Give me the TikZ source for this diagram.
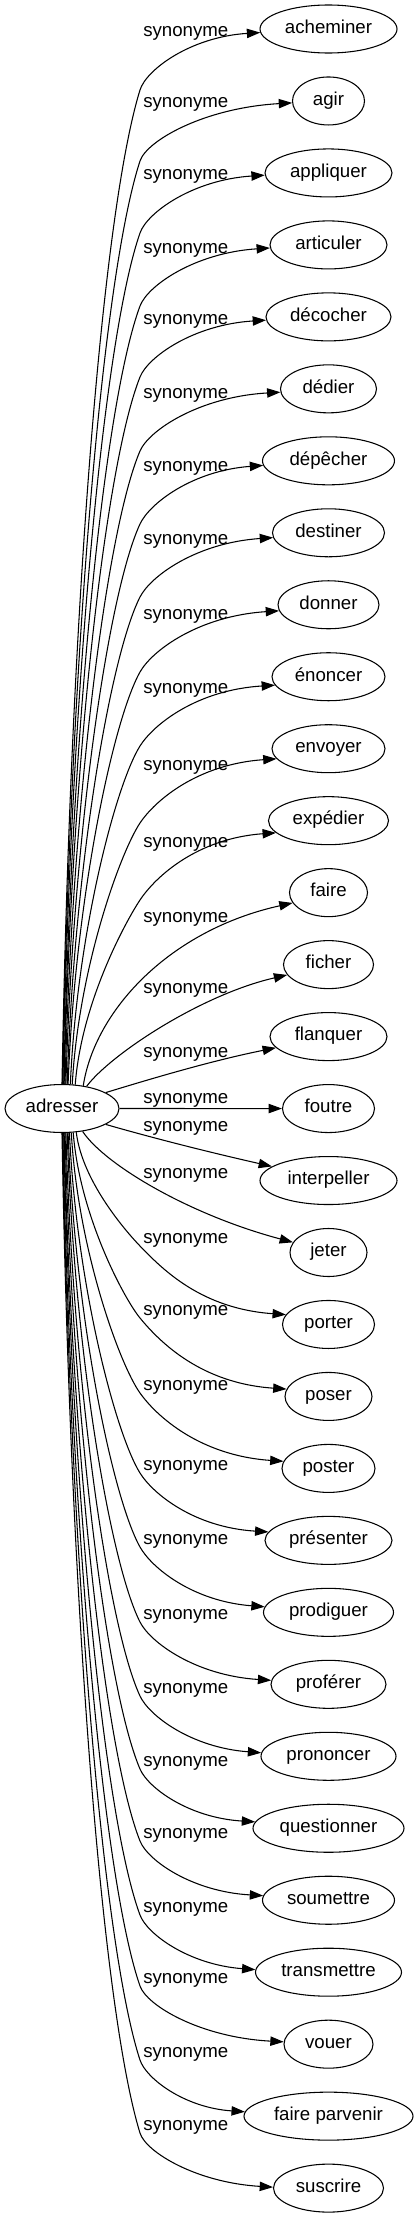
\documentclass[tikz,border=0pt]{standalone}
\usepackage{fontspec}
\setmainfont{Liberation Sans}
\usetikzlibrary{arrows.meta,shapes.geometric}
\begin{document}
\begin{tikzpicture}[x=0.75pt,y=-0.75pt,
  word/.style={draw, ellipse, line width=0.8pt, inner sep=0pt, minimum height=36pt,
    text height=0.64em, text depth=0pt, font=\fontsize{14}{16}\selectfont},
  lbl/.style={anchor=base, inner sep=0pt, font=\fontsize{14}{16}\selectfont},
  edge/.style={line width=0.8pt, -{Triangle[length=10pt,width=7pt]}}]
\useasboundingbox (0,0) rectangle (418,2219);
\node[word, minimum width=85.5pt] (adr) at (62,1108.5) {adresser};
\foreach \i/\txt/\w in {0/acheminer/137, 1/agir/72, 2/appliquer/127, 3/articuler/117,
  4/décocher/125, 5/dédier/96, 6/dépêcher/132, 7/destiner/112, 8/donner/101,
  9/énoncer/113, 10/envoyer/113, 11/expédier/120, 12/faire/78, 13/ficher/90,
  14/flanquer/117, 15/foutre/92, 16/interpeller/137, 17/jeter/77, 18/porter/92,
  19/poser/87, 20/poster/93, 21/présenter/127, 22/prodiguer/130, 23/proférer/115,
  24/prononcer/135, 25/questionner/151, 26/soumettre/132, 27/transmettre/146,
  28/vouer/89, 29/faire parvenir/169, 30/suscrire/110} {
  \node[word, minimum width=\w*0.75pt] (t\i) at (328.5,{29+71.97*\i}) {\txt};
}
\foreach \i/\eL in {0/32, 1/103, 2/175, 3/248, 4/319, 5/393, 6/466, 7/539, 8/614,
  9/688, 10/765, 11/842, 12/917, 13/988, 14/1052, 15/1098, 16/1126, 17/1173,
  18/1238, 19/1310, 20/1385, 21/1465, 22/1539, 23/1614, 24/1688, 25/1761,
  26/1833, 27/1907, 28/1978, 29/2052, 30/2125} {
  \node[lbl] (l\i) at (185.8,{\eL+5}) {synonyme};
}
% curved edges with a bend near the labels
\foreach \i/\eL/\ofs/\sx/\sg/\w in {0/32/3/62/-1/137, 1/103/2/62.5/-1/72,
  2/175/2/63/-1/127, 3/248/3/63.5/-1/117, 4/319/3/64/-1/125, 5/393/3/65/-1/96,
  6/466/5/66/-1/132, 7/539/5/67/-1/112, 8/614/6/68/-1/101, 9/688/8/70/-1/113,
  10/765/10/72/-1/113, 11/842/12/75/-1/120,
  18/1238/-10/76/1/92, 19/1310/-7/73/1/87, 20/1385/-7/71/1/93,
  21/1465/-8/69.5/1/127, 22/1539/-6/68/1/130, 23/1614/-4/67/1/115,
  24/1688/-4/66/1/135, 25/1761/-6/65/1/151, 26/1833/-4/64/1/132,
  27/1907/-3/63.5/1/146, 28/1978/-2/63/1/89, 29/2052/-4/62.5/1/169,
  30/2125/-1/62/1/110} {
  \pgfmathsetmacro\ety{29+71.97*\i}
  \pgfmathsetmacro\esy{1108.5+\sg*24*sqrt(1-((\sx-62)/57)^2)}
  \pgfmathtruncatemacro\esa{round(mod(atan2(-(\esy-1108.5),\sx-62)+360,360))}
  \pgfmathsetmacro\ewy{\eL+33-25*\sg}
  \pgfmathsetmacro\edya{\sg*(\ewy-\esy)}
  \pgfmathsetmacro\edxa{140-\sx}
  \pgfmathsetmacro\es{max(1.25-0.25*\sg,1+(\edya-100)*0.0025)}
  \pgfmathsetmacro\en{sqrt(1+\es*\es)}
  \pgfmathsetmacro\eh{0.134*\edya}
  \pgfmathsetmacro\cax{\sx+0.1*\edxa}
  \pgfmathsetmacro\cay{\esy+\sg*0.45*\edya}
  \pgfmathsetmacro\cbx{140-\eh/\en}
  \pgfmathsetmacro\cby{\ewy-\sg*\eh*\es/\en}
  \pgfmathsetmacro\erx{\w/2}
  \pgfmathsetmacro\etx{328.5-\erx*sqrt(1-(\ofs/24)^2)}
  \pgfmathsetmacro\etyy{\ety+\ofs}
  \pgfmathtruncatemacro\eea{round(mod(atan2(-\ofs,\etx-328.5)+360,360))}
  \pgfmathsetmacro\edxb{\etx-140}
  \pgfmathsetmacro\edyb{\sg*(\etyy-\ewy)}
  \pgfmathsetmacro\ccx{140+0.35*\edyb/\es}
  \pgfmathsetmacro\ccy{\ewy+\sg*0.35*\edyb}
  \pgfmathsetmacro\cdx{\etx-0.58*\edxb}
  \pgfmathsetmacro\cdy{\etyy-\sg*0.085*\edyb}
  \draw[edge] (adr.\esa) .. controls (\cax,\cay) and (\cbx,\cby) .. (140,\ewy)
     .. controls (\ccx,\ccy) and (\cdx,\cdy) .. (t\i.\eea);
}
% edges close to the middle
\draw[edge] (adr.47) .. controls (95,1010) and (170,930) .. (t12.196);
\draw[edge] (adr.42) .. controls (110,1055) and (200,995) .. (t13.194);
\draw[edge] (adr.20) .. controls (160,1076) and (215,1060) .. (t14.192);
\draw[edge] (adr.east) -- (t15.west);
\draw[edge] (adr.340) .. controls (160,1140) and (217,1154) .. (t16.166);
\draw[edge] (adr.312) .. controls (105,1165) and (190,1215) .. (t17.164);
\end{tikzpicture}
\end{document}
